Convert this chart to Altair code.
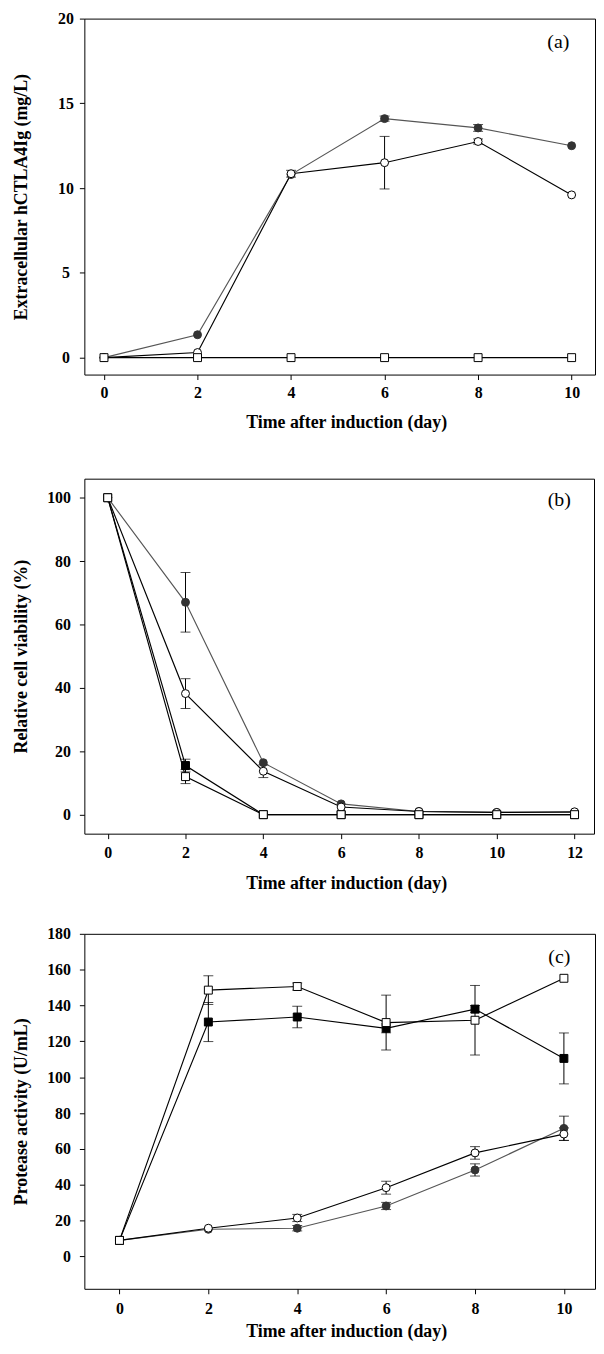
import altair as alt
import pandas as pd

# ---------------- data ----------------
series_names = ["filled circle", "open circle", "filled square", "open square"]

# Panel (a): extracellular hCTLA4Ig (mg/L)
a_days = [0, 2, 4, 6, 8, 10]
a_fc = [0, 1.35, 10.8, 14.1, 13.55, 12.5]
a_fc_err = [0, 0, 0, 0.15, 0.2, 0]
a_oc = [0, 0.3, 10.85, 11.5, 12.75, 9.6]
a_oc_err = [0, 0, 0.2, 1.55, 0.15, 0]
a_os = [0, 0, 0, 0, 0, 0]
a_os_err = [0, 0, 0, 0, 0, 0]

# Panel (b): relative cell viability (%)
b_days = [0, 2, 4, 6, 8, 10, 12]
b_fc = [100, 67, 16.4, 3.4, 1.0, 0.7, 0.7]
b_fc_err = [0, 9.4, 0, 0, 0, 0, 0]
b_oc = [100, 38.2, 13.7, 2.4, 1.0, 0.7, 0.9]
b_oc_err = [0, 4.7, 2.0, 0, 0, 0, 0]
b_fs = [100, 15.5, 0, 0, 0, 0, 0]
b_fs_err = [0, 2.0, 0, 0, 0, 0, 0]
b_os = [100, 12, 0, 0, 0, 0, 0]
b_os_err = [0, 2.2, 0, 0, 0, 0, 0]

# Panel (c): protease activity (U/mL)
c_days = [0, 2, 4, 6, 8, 10]
c_fc = [9, 15.2, 15.8, 28.2, 48.3, 71.5]
c_fc_err = [0, 0, 1.5, 2.0, 3.4, 6.8]
c_oc = [9, 15.8, 21.5, 38.4, 57.8, 68.3]
c_oc_err = [0, 0, 2.0, 3.6, 3.5, 3.5]
c_fs = [9, 130.8, 133.6, 127.3, 138, 110.5]
c_fs_err = [0, 10.9, 6.0, 2.5, 2.0, 14.2]
c_os = [9, 148.6, 150.6, 130.5, 131.8, 155.2]
c_os_err = [0, 8.0, 2.0, 15.3, 19.4, 0]

x_title = "Time after induction (day)"

shape_scale = alt.Scale(domain=series_names, range=["circle", "circle", "square", "square"])
fill_scale = alt.Scale(domain=series_names, range=["#333333", "white", "black", "white"])
stroke_scale = alt.Scale(domain=series_names, range=["#333333", "black", "black", "black"])
line_scale = alt.Scale(domain=series_names, range=["#555555", "black", "black", "black"])


def build_df(days, series):
    rows = []
    for name, vals, errs in series:
        for d, v, e in zip(days, vals, errs):
            rows.append({"day": d, "value": v, "err": e, "lo": v - e, "hi": v + e,
                         "series": name})
    return pd.DataFrame(rows)


def panel(df, xdom, xvals, ydom, yvals, ytitle, w, h, label, lab_xy,
          ylab_align, ylab_pad, yext, x_lp, x_tp, title_x):
    xs = alt.Scale(domain=xdom, nice=False, zero=False)
    ys = alt.Scale(domain=ydom, nice=False, zero=False)
    xax = alt.Axis(values=xvals, tickCount=len(xvals) + 5, title=x_title,
                   labelPadding=x_lp, titlePadding=x_tp,
                   minExtent=26, maxExtent=26, titleX=title_x, labelOverlap=False)
    yax = alt.Axis(values=yvals, tickCount=len(yvals) + 5, title=ytitle,
                   labelAlign=ylab_align, labelPadding=ylab_pad,
                   minExtent=yext, maxExtent=yext, titlePadding=10, labelOverlap=False)
    base = alt.Chart(df)
    lines = base.mark_line(strokeWidth=1.15).encode(
        x=alt.X("day:Q", scale=xs, axis=xax),
        y=alt.Y("value:Q", scale=ys, axis=yax),
        color=alt.Color("series:N", scale=line_scale, legend=None),
        detail="series:N",
    )
    eb = base.transform_filter("datum.err > 0")
    rules = eb.mark_rule(color="black", strokeWidth=1).encode(
        x="day:Q", y="lo:Q", y2="hi:Q")
    cap_lo = eb.mark_tick(color="black", orient="horizontal", size=10, thickness=1).encode(
        x="day:Q", y="lo:Q")
    cap_hi = eb.mark_tick(color="black", orient="horizontal", size=10, thickness=1).encode(
        x="day:Q", y="hi:Q")
    points = base.mark_point(filled=True, size=64, strokeWidth=1, opacity=1).encode(
        x="day:Q", y="value:Q",
        shape=alt.Shape("series:N", scale=shape_scale, legend=None),
        fill=alt.Fill("series:N", scale=fill_scale, legend=None),
        stroke=alt.Stroke("series:N", scale=stroke_scale, legend=None),
    )
    txt = alt.Chart(pd.DataFrame({"label": [label]})).mark_text(
        font="Liberation Serif", fontSize=20, fontWeight="normal", color="black").encode(
        text="label:N", x=alt.value(lab_xy[0]), y=alt.value(lab_xy[1]))
    return alt.layer(lines, rules, cap_lo, cap_hi, points, txt).properties(width=w, height=h)


df_a = build_df(a_days, [("filled circle", a_fc, a_fc_err),
                         ("open circle", a_oc, a_oc_err),
                         ("open square", a_os, a_os_err)])
df_b = build_df(b_days, [("filled circle", b_fc, b_fc_err),
                         ("filled square", b_fs, b_fs_err),
                         ("open circle", b_oc, b_oc_err),
                         ("open square", b_os, b_os_err)])
df_c = build_df(c_days, [("filled circle", c_fc, c_fc_err),
                         ("filled square", c_fs, c_fs_err),
                         ("open circle", c_oc, c_oc_err),
                         ("open square", c_os, c_os_err)])

pa = panel(df_a, [-0.42, 10.5], a_days, [-1, 20], [0, 5, 10, 15, 20],
           "Extracellular hCTLA4Ig (mg/L)", 515, 359, "(a)", (478, 24),
           "center", 14, 44, 5, 13, 264)
pb = panel(df_b, [-0.6, 12.5], b_days, [-6, 106], [0, 20, 40, 60, 80, 100],
           "Relative cell viability (%)", 514, 358, "(b)", (479, 22),
           "right", 9, 44, 6, 15, 264)
pc = panel(df_c, [-0.79, 10.7], c_days, [-18, 180], [0, 20, 40, 60, 80, 100, 120, 140, 160, 180],
           "Protease activity (U/mL)", 515, 358, "(c)", (479, 23),
           "right", 9, 44, 7, 8, 264)

inner = alt.concat(pb, pc, columns=1, align="none", spacing=32)
chart = alt.concat(pa, inner, columns=1, align="none", spacing=46).properties(
    padding={"left": 4, "top": -4, "right": 0, "bottom": 0},
    background="white"
).configure_view(
    stroke="black", strokeWidth=1
).configure_axis(
    grid=False, domain=False, ticks=True, tickSize=5, tickWidth=1, tickColor="black",
    labelFont="Liberation Serif", labelFontSize=16, labelFontWeight="bold", labelColor="black",
    titleFont="Liberation Serif", titleFontSize=18, titleFontWeight="bold", titleColor="black",
    labelOverlap=False
)

chart.save("out.html", embed_options={"renderer": "svg", "actions": False})
